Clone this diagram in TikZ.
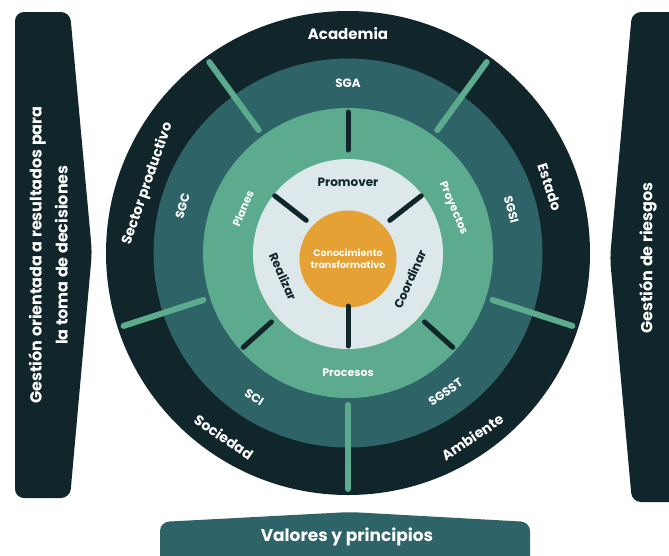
\documentclass[tikz,border=0pt]{standalone}
\usepackage{fontspec}
\setmainfont{Poppins}
\usetikzlibrary{positioning,calc}
\definecolor{deep}{RGB}{16,38,42}
\definecolor{midteal}{RGB}{46,100,104}
\definecolor{leaf}{RGB}{93,171,143}
\definecolor{mist}{RGB}{220,232,234}
\definecolor{amber}{RGB}{229,161,51}

\begin{document}
\begin{tikzpicture}[x=1pt, y=1pt,
  ring/.style={circle, inner sep=0pt, minimum size=#1},
  spoke/.style={line width=6pt, line cap=round, leaf},
  tick/.style={line width=5pt, line cap=round, deep},
  lbl/.style={font=\bfseries\fontsize{14}{16}\selectfont, text=white, inner sep=1pt},
  sml/.style={font=\bfseries\fontsize{12}{14}\selectfont, text=white, inner sep=1pt},
  side/.style={fill=deep, rounded corners=9pt}
]
\useasboundingbox (0,0) rectangle (669,-555);

% side panels and base
\fill[side] (15,-12) -- (70,-12) -- (92,-252) -- (70,-498) -- (15,-498) -- cycle;
\fill[side] (690,-12) -- (632,-12) -- (610,-258) -- (632,-502) -- (690,-502) -- cycle;
\fill[midteal, rounded corners=9pt] (160,-522) -- (350,-512) -- (530,-522) -- (530,-575) -- (160,-575) -- cycle;

\node[font=\bfseries\fontsize{16}{26}\selectfont, text=white, rotate=90, align=center] (goal) at (48,-255)
  {Gestión orientada a resultados para\\la toma de decisiones};
\node[font=\bfseries\fontsize{16}{20}\selectfont, text=white, rotate=90] (risk) at (648,-258) {Gestión de riesgos};
\node[font=\bfseries\fontsize{17}{20}\selectfont, text=white] (values) at (347,-537) {Valores y principios};

\begin{scope}[shift={(348,-253)}]
% rings
\node[ring=484, fill=deep] (outer) at (0,0) {};
\node[ring=389, fill=midteal] (middle) at (0,0) {};
\node[ring=290, fill=leaf] (green) at (0,0) {};
\node[ring=190, fill=mist] (inner) at (0,-1) {};
\node[ring=97, fill=amber, align=center, font=\bfseries\fontsize{9.5}{12}\selectfont, text=white]
  (core) at (0,-6) {Conocimiento\\transformativo};

% spokes of the outer rings
\foreach \a in {54,126,198,270,342}
  \draw[spoke] (\a:152) -- (\a:236);
% ticks of the inner rings
\foreach \a in {90,222,318}
  \draw[tick] (\a:103) -- (\a:141);
\foreach \a in {38,142,270}
  \draw[tick] (\a:53) -- (\a:93);

% outer ring
\node[lbl, font=\bfseries\fontsize{15}{18}\selectfont] (academia) at (90:219) {Academia};
\node[lbl, rotate=-72] (estado) at (18:212) {Estado};
\node[lbl, rotate=34] (ambiente) at (-56:222) {Ambiente};
\node[lbl, rotate=-34] (sociedad) at (236:222) {Sociedad};
\node[lbl, rotate=71] (sector) at (161:212) {Sector productivo};

% middle ring
\node[sml] (sga) at (90:170) {SGA};
\node[sml, rotate=74] (sgc) at (164:172) {SGC};
\node[sml, rotate=-75] (sgsi) at (15:169) {SGSI};
\node[sml, rotate=-33] (sci) at (237:172) {SCI};
\node[sml, rotate=35] (sgsst) at (-55:170) {SGSST};

% green ring
\node[sml, font=\bfseries\fontsize{11}{13}\selectfont, rotate=67] (planes) at (157:114) {Planes};
\node[sml, font=\bfseries\fontsize{11}{13}\selectfont, rotate=-67] (proyectos) at (23:114) {Proyectos};
\node[sml, font=\bfseries\fontsize{11}{13}\selectfont] (procesos) at (270:120) {Procesos};

% light ring
\node[sml, text=deep] (promover) at (90:71) {Promover};
\node[sml, text=deep, rotate=-66] (realizar) at (200:69) {Realizar};
\node[sml, text=deep, rotate=66] (coordinar) at (-23:67) {Coordinar};
\end{scope}
\end{tikzpicture}
\end{document}
